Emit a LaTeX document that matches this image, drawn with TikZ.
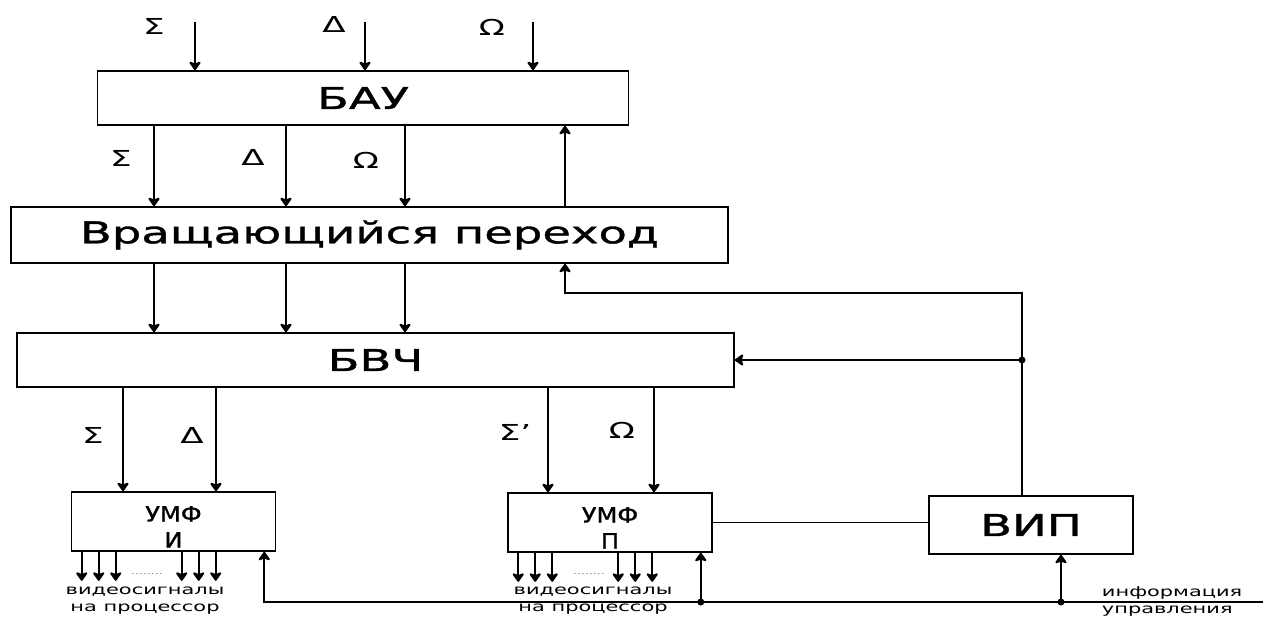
\documentclass[tikz,border=0pt]{standalone}
\usepackage{fontspec}
\setmainfont{DejaVu Sans}[FakeStretch=1.55]
\newfontfamily\blockfont{DejaVu Sans}[FakeStretch=1.55, FakeBold=1.2]
\newfontfamily\umffont{DejaVu Sans}[FakeStretch=1.15, FakeBold=1.2]
\usetikzlibrary{positioning, arrows.meta, calc}

\begin{document}
\begin{tikzpicture}[
        x=1pt, y=-1pt,
        line width=1.9pt,
        block/.style={draw, rectangle, line width=1.6pt, inner sep=0pt, align=center, font=\blockfont\fontsize{30}{36}\selectfont},
        umf/.style={block, minimum width=204pt, minimum height=59pt, font=\umffont\fontsize{21}{26}\selectfont},
        sig/.style={inner sep=0pt, font=\fontsize{22}{22}\selectfont},
        note/.style={inner sep=0pt, align=center, font=\fontsize{13.5}{17}\selectfont},
        arrow/.style={-{Stealth[length=10pt, width=14pt, inset=2.5pt, round]}},
        junction/.style={circle, fill, inner sep=0pt, minimum size=7pt}
    ]
    \useasboundingbox (0,0) rectangle (1263,619);

    % --- blocks ---
    \node[block, minimum width=531pt, minimum height=54pt] (bau) at (363,98) {БАУ};
    \node[block, minimum width=717pt, minimum height=56pt] (vp) at (369.5,235) {Вращающийся переход};
    \node[block, minimum width=717pt, minimum height=54pt] (bvch) at (375.5,360) {БВЧ};
    \node[umf] (umfi) at (173.5,521.5) {\rule{0pt}{26pt}УМФ\\И};
    \node[umf] (umfp) at (610,522.5) {\rule{0pt}{26pt}УМФ\\П};
    \node[block, minimum width=204pt, minimum height=58pt] (vip) at (1031,525) {ВИП};

    % --- columns ---
    \coordinate (in1) at (195,22);
    \coordinate (in2) at (365,22);
    \coordinate (in3) at (533,22);
    \coordinate (colS) at (154,0);
    \coordinate (colD) at (286,0);
    \coordinate (colO) at (405,0);
    \coordinate (colR) at (565,0);
    \coordinate (colI1) at (123,0);
    \coordinate (colI2) at (216,0);
    \coordinate (colP1) at (548,0);
    \coordinate (colP2) at (654,0);
    \coordinate (fb) at (1022,293);
    \coordinate (ctrl) at (1263,602);

    % --- inputs of BAU ---
    \foreach \c in {in1,in2,in3}
        \draw[arrow] (\c) -- (\c |- bau.north);
    \node[sig] (lSa) at (154,26) {Σ};
    \node[sig] (lDa) at (334,24) {Δ};
    \node[sig] (lOa) at (492,27) {Ω};

    % --- BAU -> rotating joint -> BVCh ---
    \foreach \c in {colS,colD,colO} {
        \draw[arrow] (bau.south -| \c) -- (vp.north -| \c);
        \draw[arrow] (vp.south -| \c) -- (bvch.north -| \c);
    }
    \draw[arrow] (vp.north -| colR) -- (bau.south -| colR);
    \node[sig] (lSb) at (121,158) {Σ};
    \node[sig] (lDb) at (253,157) {Δ};
    \node[sig] (lOb) at (366,160) {Ω};

    % --- feedback from VIP ---
    \draw[arrow] (vip.north -| fb) -- (fb) -| (vp.south -| colR);
    \draw[arrow] (fb |- bvch.east) -- (bvch.east);
    \node[junction] (j1) at (fb |- bvch.east) {};

    % --- BVCh -> UMF ---
    \foreach \c/\b in {colI1/umfi, colI2/umfi, colP1/umfp, colP2/umfp}
        \draw[arrow] (bvch.south -| \c) -- (\b.north -| \c);
    \node[sig] (lSc) at (93,435) {Σ};
    \node[sig] (lDc) at (192,435) {Δ};
    \node[sig] (lSd) at (515,432) {Σ'};
    \node[sig] (lOd) at (622,430) {Ω};

    % --- video outputs ---
    \foreach \b in {umfi, umfp}
        \foreach \dx [count=\i] in {11,28,45,111,128,145} {
            \path ([xshift=\dx pt]\b.south west) coordinate (\b o\i) ++(0,29) coordinate (\b e\i);
            \draw[arrow] (\b o\i) -- (\b e\i);
        }
    \node[text=gray, inner sep=0pt, font=\fontsize{8}{8}\selectfont] (dotsI) at (147,574) {........};
    \node[text=gray, inner sep=0pt, font=\fontsize{8}{8}\selectfont] (dotsP) at (589,574) {........};
    \node[note] (vidI) at (145,601) {видеосигналы\\на процессор};
    \node[note] (vidP) at (593,601) {видеосигналы\\на процессор};

    % --- control bus ---
    \path ([xshift=-12pt]umfp.south east) coordinate (up1);
    \path ([xshift=30pt]vip.south) coordinate (up2);
    \draw[arrow] (ctrl) -| ([xshift=-12pt]umfi.south east);
    \draw[arrow] (up1 |- ctrl) -- (up1);
    \draw[arrow] (up2 |- ctrl) -- (up2);
    \node[junction] (j2) at (up1 |- ctrl) {};
    \node[junction] (j3) at (up2 |- ctrl) {};
    \draw (umfp.east) -- (vip.west |- umfp.east);
    \node[note, anchor=west, align=left] (info) at (1101,601) {информация\\управления};
\end{tikzpicture}
\end{document}
